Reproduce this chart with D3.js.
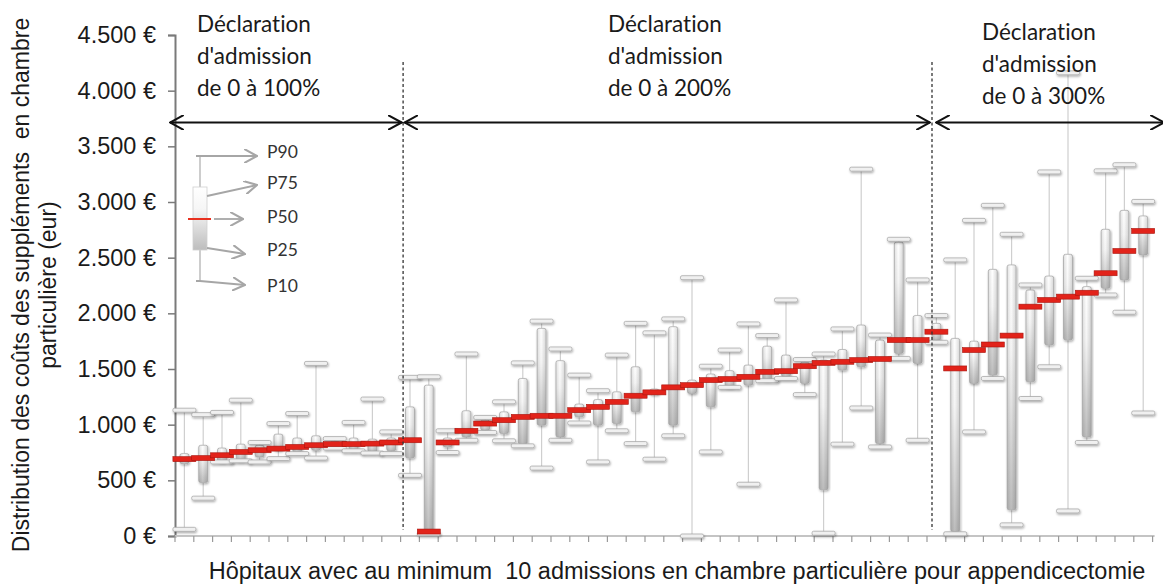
<!DOCTYPE html>
<html>
<head>
<meta charset="utf-8">
<script src="https://cdn.jsdelivr.net/npm/d3@7"></script>
<style>
  body { margin: 0; background: #fff; }
  text { font-variant-ligatures: none; }
</style>
</head>
<body>
<script>
// percentiles per hospital (eur), hospitals sorted by median
const p10 = [60, 340, 665, 675, 665, 695, 740, 700, 790, 765, 745, 740,
  545, 20, 750, 860, 930, 855, 810, 610, 860, 1015, 665, 945, 830, 690, 900, 0,
  755, 1335, 465, 1395, 1415, 1270, 25, 825, 1150, 800, 1595, 860,
  1740, 20, 935, 1415, 100, 1235, 1520, 225, 840, 2165, 2010, 1105];
const p25 = [650, 480, 665, 675, 710, 770, 755, 770, 805, 770, 755, 765,
  700, 30, 800, 890, 950, 920, 825, 995, 890, 1070, 995, 1010, 1115, 1270, 995, 1280,
  1160, 1335, 1355, 1400, 1430, 1370, 415, 1490, 1520, 830, 1640, 1550,
  1760, 40, 1370, 1445, 235, 1385, 1715, 1760, 890, 2225, 2300, 2525];
const p50 = [690, 700, 725, 755, 770, 785, 800, 815, 825, 825, 830, 840,
  860, 40, 840, 945, 1010, 1040, 1070, 1080, 1080, 1130, 1160, 1205, 1260, 1290, 1335, 1355,
  1400, 1410, 1430, 1475, 1480, 1525, 1555, 1565, 1580, 1590, 1760, 1760,
  1835, 1505, 1670, 1720, 1800, 2060, 2120, 2150, 2185, 2360, 2560, 2740];
const p75 = [740, 815, 790, 825, 815, 915, 880, 900, 850, 880, 870, 880,
  1160, 1355, 880, 1125, 1040, 1115, 1415, 1865, 1575, 1185, 1225, 1295, 1520, 1320, 1880, 1400,
  1455, 1485, 1535, 1705, 1625, 1560, 1580, 1675, 1895, 1760, 2640, 1980,
  1910, 1775, 1750, 2395, 2435, 2210, 2335, 2530, 2240, 2755, 2925, 2875];
const p90 = [1130, 1090, 1110, 1220, 840, 1010, 1100, 1550, 875, 1020, 1230, 935,
  1425, 1430, 945, 1635, 1065, 1205, 1555, 1930, 1680, 1445, 1305, 1625, 1910, 1825, 1950, 2320,
  1525, 1670, 1905, 1800, 2120, 1585, 1635, 1860, 3295, 1805, 2665, 2300,
  1980, 2480, 2835, 2970, 2710, 2255, 3270, 4160, 2315, 3280, 3335, 3005];

// admission-declaration groups: first hospital index, end index (exclusive)
const groupStart = [0, 12, 40];
const groupEnd = [12, 40, 52];
const groupLabels = ["de 0 à 100%", "de 0 à 200%", "de 0 à 300%"];

const yTicks = [0, 500, 1000, 1500, 2000, 2500, 3000, 3500, 4000, 4500];
const legendLabels = ["P90", "P75", "P50", "P25", "P10"];

const width = 1163;
const height = 584;

const hospitals = d3.range(p50.length);
const rows = hospitals.map((i) => ({
  i, p10: p10[i], p25: p25[i], p50: p50[i], p75: p75[i], p90: p90[i],
}));

const x = d3.scaleBand().domain(hospitals).range([175, 1152.6]).padding(0);
const y = d3.scaleLinear().domain([0, 4500]).range([536, 35]);
const cx = (i) => x(i) + x.bandwidth() / 2;
const edge = (i) => (i < hospitals.length ? x(i) : x.range()[1]);

const fr = d3.formatLocale({ decimal: ",", thousands: ".", grouping: [3], currency: ["", " €"] });
const fmt = fr.format("$,.0f");

const svg = d3.select("body").append("svg")
  .attr("width", width)
  .attr("height", height)
  .style("font-family", "'Liberation Sans', Arial, sans-serif");

const defs = svg.append("defs");

const shadow = defs.append("filter").attr("id", "shadow")
  .attr("x", "-30%").attr("y", "-50%").attr("width", "160%").attr("height", "250%");
shadow.append("feDropShadow")
  .attr("dx", 0.8).attr("dy", 1.4).attr("stdDeviation", 0.9)
  .attr("flood-color", "#000").attr("flood-opacity", 0.35);

const grad = defs.append("linearGradient").attr("id", "boxgrad")
  .attr("x1", 0).attr("y1", 0).attr("x2", 0).attr("y2", 1);
grad.append("stop").attr("offset", "0%").attr("stop-color", "#ffffff");
grad.append("stop").attr("offset", "35%").attr("stop-color", "#f6f6f6");
grad.append("stop").attr("offset", "100%").attr("stop-color", "#bdbdbd");

const hgrad = defs.append("linearGradient").attr("id", "boxside")
  .attr("x1", 0).attr("y1", 0).attr("x2", 1).attr("y2", 0);
hgrad.append("stop").attr("offset", "0%").attr("stop-color", "#000").attr("stop-opacity", 0.12);
hgrad.append("stop").attr("offset", "45%").attr("stop-color", "#000").attr("stop-opacity", 0);
hgrad.append("stop").attr("offset", "100%").attr("stop-color", "#000").attr("stop-opacity", 0.15);

defs.append("marker").attr("id", "chev")
  .attr("viewBox", "0 0 12 12").attr("refX", 11).attr("refY", 6)
  .attr("markerWidth", 15).attr("markerHeight", 15)
  .attr("markerUnits", "userSpaceOnUse")
  .attr("orient", "auto-start-reverse")
  .append("path").attr("d", "M0,0 L11,6 L0,12")
  .attr("fill", "none").attr("stroke", "#111").attr("stroke-width", 1.6);

defs.append("marker").attr("id", "chevGrey")
  .attr("viewBox", "0 0 12 12").attr("refX", 11).attr("refY", 6)
  .attr("markerWidth", 14).attr("markerHeight", 14)
  .attr("markerUnits", "userSpaceOnUse")
  .attr("orient", "auto")
  .append("path").attr("d", "M0,0 L11,6 L0,12")
  .attr("fill", "none").attr("stroke", "#a6a6a6").attr("stroke-width", 1.8);

// y axis
const yAxis = svg.append("g")
  .attr("transform", "translate(175,0)")
  .call(d3.axisLeft(y).tickValues(yTicks).tickFormat(fmt).tickSize(7).tickPadding(12));
yAxis.select(".domain").attr("stroke", "#7a7a7a").attr("stroke-width", 2);
yAxis.selectAll(".tick line").attr("stroke", "#7a7a7a").attr("stroke-width", 1.5);
yAxis.selectAll(".tick text")
  .attr("fill", "#1a1a1a")
  .style("font-size", "23.5px")
  .style("font-family", "'Liberation Sans', Arial, sans-serif");

// x axis: category boundaries
const xg = svg.append("g");
xg.append("line")
  .attr("x1", x.range()[0]).attr("x2", x.range()[1] + 2)
  .attr("y1", y(0)).attr("y2", y(0))
  .attr("stroke", "#c4c4c4").attr("stroke-width", 2);
xg.selectAll("line.tk")
  .data(d3.range(hospitals.length + 1))
  .join("line")
  .attr("class", "tk")
  .attr("x1", (k) => edge(k)).attr("x2", (k) => edge(k))
  .attr("y1", y(0)).attr("y2", y(0) + 6)
  .attr("stroke", "#9a9a9a").attr("stroke-width", 1.2);

// whiskers
const plot = svg.append("g");
plot.append("g").selectAll("line")
  .data(rows)
  .join("line")
  .attr("x1", (d) => cx(d.i)).attr("x2", (d) => cx(d.i))
  .attr("y1", (d) => y(d.p90)).attr("y2", (d) => y(d.p10))
  .attr("stroke", "#cfcfcf").attr("stroke-width", 1.2);

// boxes
const boxW = 9;
const boxes = plot.append("g").selectAll("g")
  .data(rows)
  .join("g");
boxes.append("rect")
  .attr("x", (d) => cx(d.i) - boxW / 2)
  .attr("y", (d) => y(d.p75))
  .attr("width", boxW)
  .attr("height", (d) => Math.max(1, y(d.p25) - y(d.p75)))
  .attr("rx", 2)
  .attr("fill", "url(#boxgrad)")
  .attr("stroke", "#b3b3b3").attr("stroke-width", 0.8)
  .attr("filter", "url(#shadow)");
boxes.append("rect")
  .attr("x", (d) => cx(d.i) - boxW / 2)
  .attr("y", (d) => y(d.p75))
  .attr("width", boxW)
  .attr("height", (d) => Math.max(1, y(d.p25) - y(d.p75)))
  .attr("rx", 2)
  .attr("fill", "url(#boxside)");

// caps at P10 and P90
const capW = 23;
const caps = rows.flatMap((d) => [{ i: d.i, v: d.p90 }, { i: d.i, v: d.p10 }]);
plot.append("g").selectAll("rect")
  .data(caps)
  .join("rect")
  .attr("x", (d) => cx(d.i) - capW / 2)
  .attr("y", (d) => y(d.v) - 2)
  .attr("width", capW)
  .attr("height", 4)
  .attr("rx", 1.5)
  .attr("fill", "#f0f0f0")
  .attr("stroke", "#a0a0a0").attr("stroke-width", 0.7)
  .attr("filter", "url(#shadow)");

// medians
plot.append("g").selectAll("rect")
  .data(rows)
  .join("rect")
  .attr("x", (d) => cx(d.i) - capW / 2)
  .attr("y", (d) => y(d.p50) - 2.5)
  .attr("width", capW)
  .attr("height", 5)
  .attr("fill", "#e2231a")
  .attr("stroke", "#a8160f").attr("stroke-width", 0.6);

// group separators and arrows
const sepX = [edge(12) + 2.5, edge(40) + 5];
svg.append("g").selectAll("line")
  .data(sepX)
  .join("line")
  .attr("x1", (d) => d).attr("x2", (d) => d)
  .attr("y1", 62).attr("y2", 530)
  .attr("stroke", "#333").attr("stroke-width", 1.3)
  .attr("stroke-dasharray", "3,2.5");

const arrowY = 122.5;
const arrows = [
  [edge(0) - 5, sepX[0] - 1.5],
  [sepX[0] + 1.5, sepX[1] - 2],
  [sepX[1] + 4, width + 1],
];
svg.append("g").selectAll("line")
  .data(arrows)
  .join("line")
  .attr("x1", (d) => d[0]).attr("x2", (d) => d[1])
  .attr("y1", arrowY).attr("y2", arrowY)
  .attr("stroke", "#111").attr("stroke-width", 2)
  .attr("marker-start", "url(#chev)")
  .attr("marker-end", "url(#chev)");

const labelX = [197, 608, 982];
const labelY0 = [32, 32, 40];
const glab = svg.append("g")
  .style("font-family", "Lato, 'Open Sans', sans-serif")
  .style("font-size", "22.5px")
  .attr("fill", "#1a1a1a");
groupLabels.forEach((t, g) => {
  ["Déclaration", "d'admission", t].forEach((line, j) => {
    glab.append("text")
      .attr("x", labelX[g])
      .attr("y", labelY0[g] + j * 32)
      .text(line);
  });
});

// legend
const lg = svg.append("g");
const lx = 200;
lg.append("line").attr("x1", lx).attr("x2", lx).attr("y1", 156).attr("y2", 281)
  .attr("stroke", "#bdbdbd").attr("stroke-width", 1.5);
lg.append("rect").attr("x", lx - 7).attr("y", 187).attr("width", 14).attr("height", 63)
  .attr("fill", "url(#boxgrad)").attr("stroke", "#cfcfcf").attr("stroke-width", 0.8);
lg.append("line").attr("x1", lx - 12).attr("x2", lx + 11).attr("y1", 219).attr("y2", 219)
  .attr("stroke", "#e8301f").attr("stroke-width", 2);
const legArrows = [
  [[lx - 4, 156], [lx, 156], [257, 156]],
  [[lx + 7, 196], [257, 185]],
  [[lx + 14, 219], [243, 219]],
  [[lx + 7, 248], [245, 254]],
  [[lx - 4, 281], [lx, 281], [245, 285]],
];
lg.selectAll("path")
  .data(legArrows)
  .join("path")
  .attr("d", (d) => d3.line()(d))
  .attr("fill", "none")
  .attr("stroke", "#a6a6a6").attr("stroke-width", 1.8)
  .attr("marker-end", "url(#chevGrey)");
const legY = [152, 183, 217, 250, 286];
lg.selectAll("text")
  .data(legendLabels)
  .join("text")
  .attr("x", 267)
  .attr("y", (d, j) => legY[j])
  .attr("dy", "0.35em")
  .style("font-family", "Lato, 'Open Sans', sans-serif")
  .style("font-size", "17.5px")
  .attr("fill", "#333")
  .text((d) => d);

// axis titles
svg.append("text")
  .attr("transform", "translate(29,285) rotate(-90)")
  .attr("text-anchor", "middle")
  .style("font-size", "23px")
  .attr("fill", "#1a1a1a")
  .attr("xml:space", "preserve")
  .text("Distribution des coûts des suppléments  en chambre");
svg.append("text")
  .attr("transform", "translate(56,285) rotate(-90)")
  .attr("text-anchor", "middle")
  .style("font-size", "23px")
  .attr("fill", "#1a1a1a")
  .text("particulière (eur)");
svg.append("text")
  .attr("x", 677)
  .attr("y", 579)
  .attr("text-anchor", "middle")
  .style("font-size", "23.5px")
  .attr("fill", "#1a1a1a")
  .attr("xml:space", "preserve")
  .text("Hôpitaux avec au minimum  10 admissions en chambre particulière pour appendicectomie");
</script>
</body>
</html>
